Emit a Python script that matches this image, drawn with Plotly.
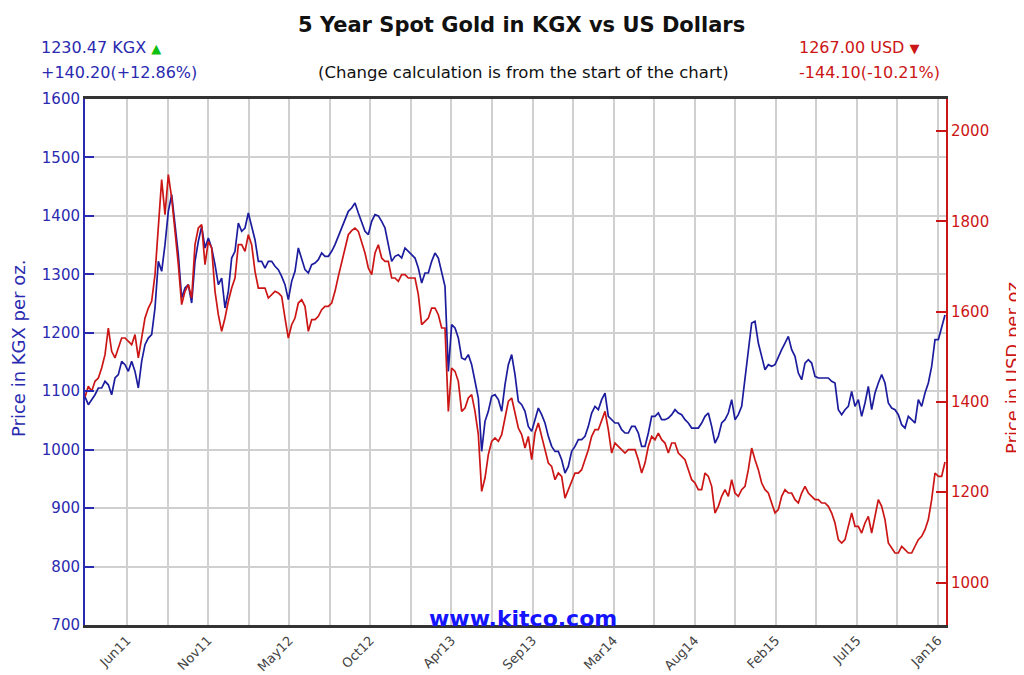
import plotly.graph_objects as go

# ---- data (weekly samples) ----
kgx = [
    1090.27, 1077, 1085.5, 1094, 1105.5, 1105.5, 1117, 1111, 1094, 1122.6,
    1128.3, 1151.1, 1145.4, 1134, 1151.1, 1134, 1105.5, 1151.1, 1179.6, 1191,
    1196.7, 1242.4, 1322.2, 1305.1, 1350.7, 1407.8, 1436.3, 1379.2, 1333.6, 1259.5,
    1276.6, 1282.3, 1250.9, 1322.2, 1356.4, 1382.1, 1345, 1362.1, 1345, 1316.5,
    1282.3, 1293.7, 1242.4, 1270.9, 1327.9, 1339.3,
    1387.8, 1373.6, 1379.3, 1404.9, 1379.3, 1359.3, 1322.2, 1322.2, 1310.8, 1322.2,
    1322.2, 1313.7, 1308, 1296.6, 1282.3, 1256.7, 1288, 1305.1, 1345.1, 1325.1,
    1308, 1302.3, 1316.5, 1319.4, 1325.1, 1336.5, 1330.8, 1330.8, 1339.4, 1350.8,
    1365, 1382.1, 1396.4, 1407.8, 1413.5, 1422, 1404.9, 1390.7, 1373.6, 1367.9,
    1390.7, 1402.1,
    1400, 1390.7, 1379.3, 1350.8, 1322.2, 1330.8, 1333.6, 1327.9, 1345.1, 1339.4,
    1333.6, 1327.9, 1310.8, 1285.2, 1302.3, 1302.3, 1322.2, 1336.5, 1327.9, 1305.1,
    1279.5, 1134, 1213.9, 1208.2, 1191.1, 1156.9, 1154, 1162.6, 1145.4, 1117,
    1088.4, 997.2, 1048.5, 1065.6, 1091.3, 1094.1, 1085.6, 1065.6, 1111.2, 1145.4,
    1162.6, 1128.3, 1082.7, 1077, 1065.6,
    1039.9, 1031.3, 1051.3, 1071.2, 1059.8, 1045.6, 1022.8, 1005.6, 997.1, 997.1,
    982.8, 960, 971.4, 997.1, 1005.6, 1017.1, 1017.1, 1022.8, 1039.9, 1062.7,
    1074.1, 1068.4, 1085.6, 1096.9, 1057, 1051.3, 1045.6, 1045.6, 1034.2, 1028.5,
    1028.5, 1039.9, 1039.9, 1028.5, 1005.6, 1005.6, 1028.5, 1057, 1057, 1062.7,
    1051.3, 1051.3, 1054.1,
    1059.9, 1068.4, 1062.7, 1059.9, 1051.3, 1045.6, 1037, 1037, 1037, 1045.6,
    1057, 1062.7, 1039.9, 1011.4, 1022.8, 1045.6, 1051.3, 1062.7, 1085.5, 1051.3,
    1059.9, 1074.1, 1119.7, 1165.4, 1216.7, 1219.5, 1182.5, 1159.6, 1136.8, 1145.4,
    1142.5, 1145.4, 1159.6, 1171.1, 1182.5, 1193.9, 1171.1, 1159.6, 1131.1, 1119.7,
    1148.2, 1154, 1148.2,
    1125.4, 1122.6, 1122.6, 1122.6, 1122.6, 1116.9, 1114, 1068.4, 1059.9, 1068.4,
    1074.1, 1099.8, 1074.1, 1085.5, 1057, 1079.8, 1108.3, 1068.4, 1096.9, 1114,
    1128.3, 1114, 1079.8, 1071.3, 1068.4, 1059.9, 1042.7, 1037, 1057, 1051.3,
    1045.6, 1085.5, 1074.1, 1096.9, 1114, 1142.5, 1188.2, 1188.2, 1211, 1230.47,
]

usd = [
    1411.1, 1434.6, 1423.5, 1445.6, 1453, 1475.2, 1504.7, 1563.7, 1512.1, 1497.3,
    1519.4, 1541.6, 1541.6, 1534.2, 1526.8, 1549, 1497.3, 1541.6, 1585.9, 1608,
    1622.8, 1681.8, 1777.8, 1892.2, 1814.7, 1903.3, 1851.6, 1785.2, 1704.1, 1615.4,
    1644.9, 1659.7, 1630.2, 1748.3, 1785.2, 1792.5, 1704.1, 1755.6, 1740.9, 1644.9,
    1593.3, 1556.4, 1585.9, 1622.8, 1652.3, 1674.4,
    1748.2, 1748.2, 1733.4, 1770.3, 1748.2, 1689.1, 1652.2, 1652.2, 1652.2, 1630.1,
    1637.5, 1644.9, 1641.2, 1633.8, 1585.8, 1541.5, 1571, 1585.8, 1619, 1626.4,
    1611.6, 1556.3, 1582.1, 1582.1, 1589.5, 1604.3, 1611.6, 1611.6, 1619, 1644.9,
    1678.1, 1711.3, 1744.5, 1770.3, 1779.2, 1785.1, 1777.7, 1755.6, 1729.7, 1696.5,
    1681.8, 1729.7,
    1748.2, 1718.7, 1711.3, 1711.3, 1674.4, 1674.4, 1667, 1681.8, 1681.8, 1674.4,
    1674.4, 1674.4, 1637.5, 1571, 1578.4, 1585.8, 1607.9, 1607.9, 1593.2, 1563.7,
    1563.7, 1379.1, 1475.1, 1467.7, 1445.6, 1379.1, 1386.5, 1408.7, 1416.1, 1379.1,
    1327.5, 1202, 1231.5, 1283.2, 1312.7, 1320.1, 1312.7, 1327.5, 1364.4, 1401.3,
    1408.7, 1371.8, 1342.2, 1327.5, 1298,
    1323.7, 1272, 1331.1, 1353.2, 1323.7, 1294.2, 1264.6, 1257.3, 1227.7, 1242.5,
    1235.1, 1187.1, 1205.6, 1227.7, 1242.5, 1242.5, 1249.9, 1272, 1294.2, 1323.7,
    1338.5, 1338.5, 1360.6, 1379.1, 1338.5, 1286.8, 1308.9, 1301.6, 1294.2, 1286.8,
    1294.2, 1294.2, 1294.2, 1272, 1242.5, 1264.6, 1301.6, 1323.7, 1316.3, 1331.1,
    1316.3, 1308.9, 1286.8,
    1309, 1309, 1286.9, 1279.5, 1272.1, 1250, 1227.8, 1220.4, 1205.7, 1205.7,
    1242.6, 1235.2, 1213.1, 1154, 1168.8, 1190.9, 1205.7, 1190.9, 1227.8, 1198.3,
    1190.9, 1205.7, 1213.1, 1250, 1297.9, 1272.1, 1250, 1220.4, 1205.7, 1198.3,
    1176.2, 1154, 1161.4, 1190.9, 1205.7, 1198.3, 1198.3, 1183.5, 1176.2, 1198.3,
    1213.1, 1198.3, 1190.9,
    1183.5, 1183.5, 1176.2, 1176.2, 1168.8, 1154, 1131.9, 1095, 1087.6, 1095,
    1124.5, 1154, 1124.5, 1124.5, 1109.7, 1131.9, 1146.6, 1109.7, 1146.6, 1183.5,
    1168.8, 1139.3, 1087.6, 1076.5, 1065.4, 1065.4, 1080.2, 1072.8, 1065.4, 1065.4,
    1080.2, 1095, 1102.4, 1117.1, 1139.3, 1183.5, 1242.6, 1235.2, 1235.2, 1267.0,
]

month_labels = ["Jun11", "Nov11", "May12", "Oct12", "Apr13", "Sep13",
                "Mar14", "Aug14", "Feb15", "Jul15", "Jan16"]
kgx_ticks = [700, 800, 900, 1000, 1100, 1200, 1300, 1400, 1500, 1600]
usd_ticks = [1000, 1200, 1400, 1600, 1800, 2000]

weeks = list(range(len(kgx)))

# gridline positions (every ~12 weeks), labels on every other one
grid_pos = [12.6 + 12.165 * i for i in range(21)]
grid_text = []
for i in range(21):
    grid_text.append(month_labels[i // 2] if i % 2 == 0 else "")

BLUE_LINE = "#1c1c9e"
BLUE = "#2a2ab0"
RED = "#cc1515"
FONT = "DejaVu Sans"

k0, u0 = kgx[0], usd[0]
k_last, u_last = kgx[-1], usd[-1]
k_chg, u_chg = k_last - k0, u_last - u0

fig = go.Figure()
fig.add_trace(go.Scatter(x=weeks, y=kgx, mode="lines", yaxis="y",
                         line=dict(color=BLUE_LINE, width=1.7), name="KGX"))
fig.add_trace(go.Scatter(x=weeks, y=usd, mode="lines", yaxis="y2",
                         line=dict(color=RED, width=1.7), name="USD"))

# page body adds an 8px offset; figure sized to fit the 1024x675 window
fig.update_layout(
    width=1016, height=667,
    margin=dict(l=77, r=78, t=91, b=50, autoexpand=False),
    paper_bgcolor="white", plot_bgcolor="white",
    showlegend=False,
    font=dict(family=FONT, size=15, color="#222"),
    xaxis=dict(
        range=[0, len(kgx) - 0.7], automargin=False,
        tickmode="array", tickvals=grid_pos, ticktext=grid_text,
        tickangle=-45, tickfont=dict(size=13, color="#444"),
        showgrid=True, gridcolor="#d0d0d0", gridwidth=1.5,
        ticks="", zeroline=False,
        showline=True, linecolor="#333", linewidth=2.5, mirror=True,
    ),
    yaxis=dict(
        range=[700, 1600], tickmode="array", tickvals=kgx_ticks, automargin=False,
        tickfont=dict(size=15, color=BLUE),
        showgrid=True, gridcolor="#d0d0d0", gridwidth=1.5,
        ticks="inside", ticklen=9, tickwidth=2, tickcolor=BLUE,
        showline=True, linecolor=BLUE, linewidth=2, zeroline=False,
    ),
    yaxis2=dict(
        overlaying="y", side="right", automargin=False,
        range=[u0 * 700 / k0, u0 * 1600 / k0],
        tickmode="array", tickvals=usd_ticks,
        tickfont=dict(size=15, color=RED),
        showgrid=False,
        ticks="inside", ticklen=10, tickwidth=2, tickcolor=RED,
        showline=True, linecolor=RED, linewidth=2, zeroline=False,
    ),
)

# helpers: page pixel -> paper coords (plot area spans x 85..946, y 99..625 on the page)
def px_x(px):
    return (px - 85) / 861.0

def px_y(py):
    return (625 - py) / 526.0

ann = [
    dict(text="<b>5 Year Spot Gold in KGX vs US Dollars</b>", x=px_x(521), y=px_y(25),
         xanchor="center", yanchor="middle", font=dict(size=21, color="#111")),
    dict(text="(Change calculation is from the start of the chart)", x=px_x(523), y=px_y(73),
         xanchor="center", yanchor="middle", font=dict(size=16.5, color="#111")),
    dict(text=f"{k_last:.2f} KGX <span style='color:#10c010;font-size:13px'>▲</span>",
         x=px_x(39), y=px_y(48), xanchor="left", yanchor="middle",
         font=dict(size=16, color=BLUE)),
    dict(text=f"{k_chg:+.2f}({k_chg / k0 * 100:+.2f}%)",
         x=px_x(39), y=px_y(73), xanchor="left", yanchor="middle",
         font=dict(size=16, color=BLUE)),
    dict(text=f"{u_last:.2f} USD <span style='font-size:13px'>▼</span>",
         x=px_x(797), y=px_y(48), xanchor="left", yanchor="middle",
         font=dict(size=16, color=RED)),
    dict(text=f"{u_chg:+.2f}({u_chg / u0 * 100:+.2f}%)",
         x=px_x(797), y=px_y(73), xanchor="left", yanchor="middle",
         font=dict(size=16, color=RED)),
    dict(text="<b>www.kitco.com</b>", x=px_x(523), y=px_y(618),
         xanchor="center", yanchor="middle", font=dict(size=22, color="#1414ff")),
    dict(text="Price in KGX per oz.", x=px_x(18), y=px_y(349), textangle=-90,
         xanchor="center", yanchor="middle", font=dict(size=18, color=BLUE)),
    dict(text="Price in USD per oz.", x=px_x(1012), y=px_y(365), textangle=-90,
         xanchor="center", yanchor="middle", font=dict(size=18, color=RED)),
]
for a in ann:
    a.update(xref="paper", yref="paper", showarrow=False)
fig.update_layout(annotations=ann)

fig.write_html("out.html")
